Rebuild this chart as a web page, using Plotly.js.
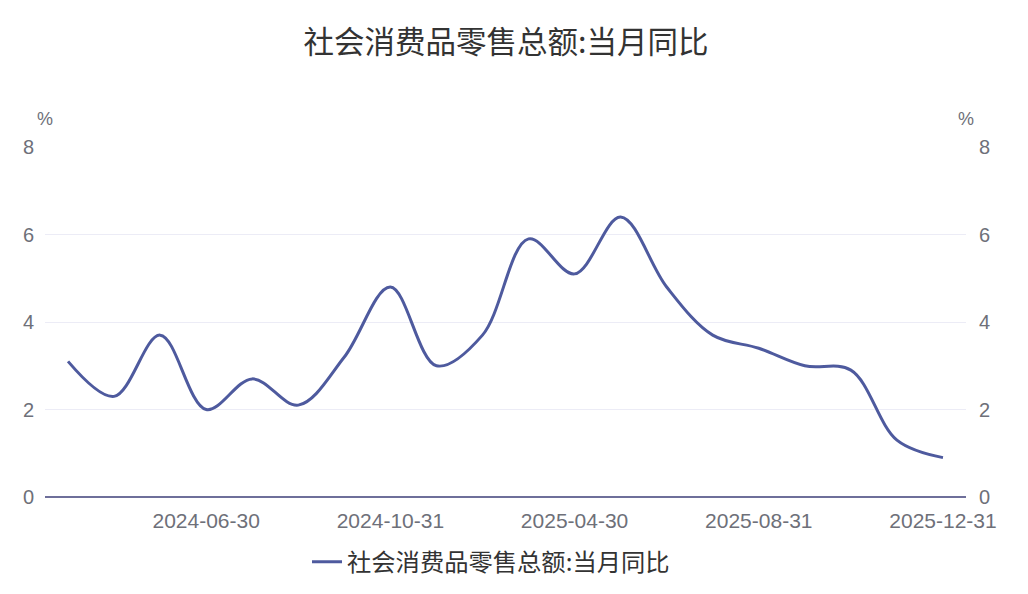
<!DOCTYPE html>
<html>
<head>
<meta charset="utf-8">
<script src="https://cdn.plot.ly/plotly-3.0.1.min.js"></script>
<style>html,body{margin:0;padding:0;background:#fff;}#chart{width:1028px;height:594px;}</style>
</head>
<body>
<div id="chart"></div>
<script>
var categories = ["2024-03-31","2024-04-30","2024-05-31","2024-06-30","2024-07-31","2024-08-31","2024-09-30","2024-10-31","2024-11-30","2024-12-31",
                  "2025-03-31","2025-04-30","2025-05-31","2025-06-30","2025-07-31","2025-08-31","2025-09-30","2025-10-31","2025-11-30","2025-12-31"];
var retailYoY = [3.1,2.3,3.7,2.0,2.7,2.1,3.2,4.8,3.0,3.7,5.9,5.1,6.4,4.8,3.7,3.4,3.0,2.9,1.3,0.9];
var xTickLabels = ["2024-06-30","2024-10-31","2025-04-30","2025-08-31","2025-12-31"];
var yTicks = [0,2,4,6,8];
var seriesName = "社会消费品零售总额:当月同比";
var titleText = "社会消费品零售总额:当月同比";

var fontFam = "Liberation Sans, Arial, Noto Sans CJK SC, sans-serif";
var cjkFam = "Noto Sans CJK SC, sans-serif";
var tickColor = "#6e7079";

var data = [{
  x: categories, y: retailYoY, type: "scatter", mode: "lines",
  name: seriesName,
  line: {color: "#4e5a9e", width: 3, shape: "spline", smoothing: 1},
  hoverinfo: "x+y"
},{
  x: categories, y: retailYoY, type: "scatter", mode: "none",
  yaxis: "y2", showlegend: false, hoverinfo: "skip"
}];

var layout = {
  width: 1028, height: 594,
  paper_bgcolor: "#fff", plot_bgcolor: "#fff",
  margin: {l: 45, r: 62, t: 147, b: 97},
  title: {text: titleText, font: {family: cjkFam, size: 30.5, color: "#333"},
          x: 506/1028, xref: "container", xanchor: "center", y: 1 - 42/594, yref: "container", yanchor: "middle"},
  font: {family: fontFam, color: tickColor},
  xaxis: {type: "category", range: [-0.5, 19.5], tickmode: "array", tickvals: xTickLabels, ticktext: xTickLabels,
          showgrid: false, zeroline: false, showline: false, ticks: "",
          tickfont: {size: 21, color: tickColor, family: fontFam}, ticklabelstandoff: 9},
  yaxis: {range: [0, 8], tickvals: yTicks, showgrid: true, gridcolor: "#ececf6", gridwidth: 1,
          zeroline: true, zerolinecolor: "#6e6f9a", zerolinewidth: 2, showline: false, ticks: "",
          tickfont: {size: 20, color: tickColor, family: fontFam}, ticklabelstandoff: 10, fixedrange: true},
  yaxis2: {range: [0, 8], tickvals: yTicks, overlaying: "y", side: "right", showgrid: false, zeroline: false,
           showline: false, ticks: "", tickfont: {size: 20, color: tickColor, family: fontFam}, ticklabelstandoff: 12},
  showlegend: true,
  legend: {orientation: "h", x: 491/1028, xref: "container", xanchor: "center", y: 1 - 562/594, yref: "container", yanchor: "middle",
           font: {size: 24.3, color: "#333", family: cjkFam}, itemwidth: 30},
  annotations: [
    {text: "%", xref: "paper", yref: "paper", x: 0, y: 1, xanchor: "center", yanchor: "bottom", yshift: 16, xshift: 0,
     showarrow: false, font: {size: 18, color: tickColor, family: fontFam}},
    {text: "%", xref: "paper", yref: "paper", x: 1, y: 1, xanchor: "center", yanchor: "bottom", yshift: 16, xshift: 0,
     showarrow: false, font: {size: 18, color: tickColor, family: fontFam}}
  ]
};
Plotly.newPlot("chart", data, layout, {displayModeBar: false});
</script>
</body>
</html>
